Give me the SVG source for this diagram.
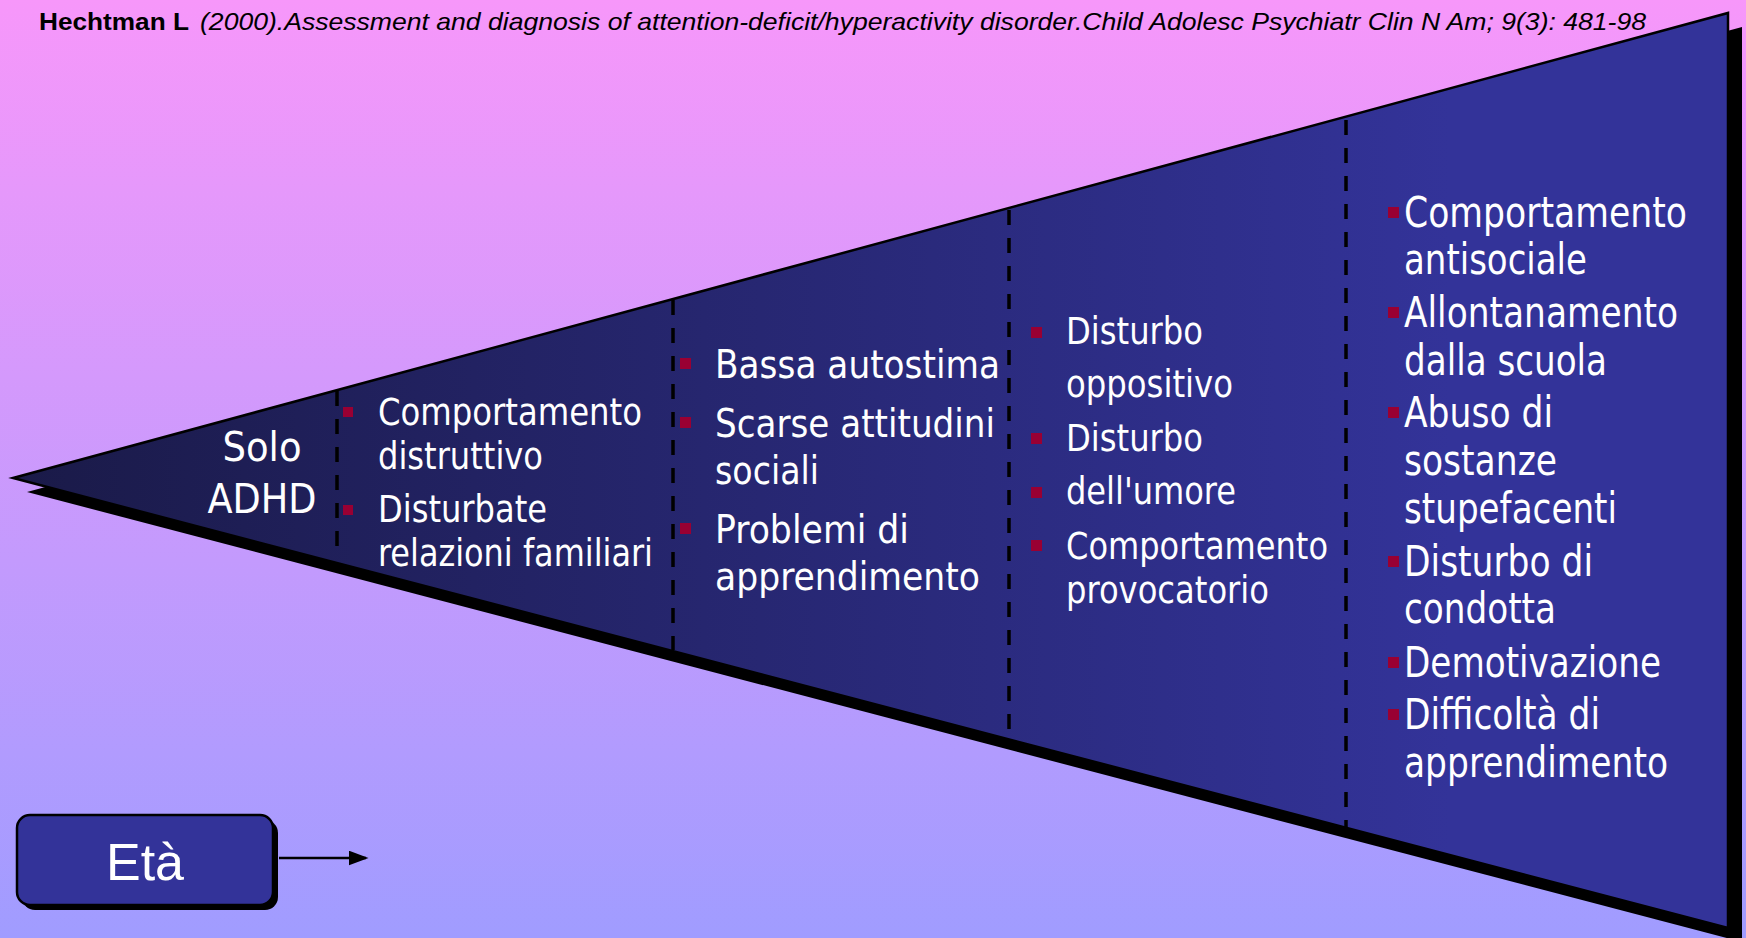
<svg xmlns="http://www.w3.org/2000/svg" width="1746" height="938" viewBox="0 0 1746 938">
<defs>
<linearGradient id="bgGrad" x1="0" y1="0" x2="0" y2="938" gradientUnits="userSpaceOnUse">
<stop offset="0" stop-color="#F797FA"/>
<stop offset="1" stop-color="#A09CFF"/>
</linearGradient>
<linearGradient id="triGrad" x1="13" y1="0" x2="1450" y2="0" gradientUnits="userSpaceOnUse">
<stop offset="0" stop-color="#1A1A48"/>
<stop offset="1" stop-color="#333399"/>
</linearGradient>
<marker id="arrowHead" markerWidth="8" markerHeight="6" refX="7" refY="3" orient="auto" markerUnits="strokeWidth">
<path d="M0,0 L8,3 L0,6 Z" fill="#000"/>
</marker>
<style>
.t{fill:#fff;font-family:"DejaVu Sans Condensed","DejaVu Sans",sans-serif;}
.c2{font-size:37px;}
.c3{font-size:39px;}
.c4{font-size:37px;}
.c5{font-size:42px;}
.b{fill:#990033;}
.dash{stroke:#000;stroke-width:3.5;stroke-dasharray:15 13;fill:none;}
.cite{font-family:"Liberation Sans",Arial,sans-serif;font-size:24px;fill:#000;}
</style>
</defs>
<rect x="0" y="0" width="1746" height="938" fill="url(#bgGrad)"/>
<text class="cite" x="39" y="30" font-weight="bold" textLength="150" lengthAdjust="spacingAndGlyphs">Hechtman L</text>
<text class="cite" x="200" y="30" font-style="italic" textLength="1446" lengthAdjust="spacingAndGlyphs">(2000).Assessment and diagnosis of attention-deficit/hyperactivity disorder.Child Adolesc Psychiatr Clin N Am; 9(3): 481-98</text>

<g id="triangle">
<polygon points="27,492 1742,27 1742,942" fill="#000"/>
<polygon points="13,478 1728,13 1728,928" fill="url(#triGrad)" stroke="#000" stroke-width="2.5" stroke-linejoin="miter"/>
<line class="dash" x1="337" y1="391" x2="337" y2="552"/>
<line class="dash" x1="673" y1="300" x2="673" y2="650"/>
<line class="dash" x1="1009" y1="210" x2="1009" y2="738"/>
<line class="dash" x1="1346" y1="120" x2="1346" y2="828"/>
</g>

<g id="solo-adhd">
<text class="t" x="262" y="461" font-size="40" text-anchor="middle" textLength="79" lengthAdjust="spacingAndGlyphs">Solo</text>
<text class="t" x="262" y="513" font-size="40" text-anchor="middle" textLength="109" lengthAdjust="spacingAndGlyphs">ADHD</text>
</g>

<g id="col2">
<rect class="b" x="343" y="407" width="10" height="10"/>
<rect class="b" x="343" y="505" width="10" height="10"/>
<text class="t c2" x="378" y="425" textLength="264" lengthAdjust="spacingAndGlyphs">Comportamento</text>
<text class="t c2" x="378" y="469" textLength="165" lengthAdjust="spacingAndGlyphs">distruttivo</text>
<text class="t c2" x="378" y="522" textLength="169" lengthAdjust="spacingAndGlyphs">Disturbate</text>
<text class="t c2" x="378" y="566" textLength="275" lengthAdjust="spacingAndGlyphs">relazioni familiari</text>
</g>

<g id="col3">
<rect class="b" x="680" y="358" width="11" height="11"/>
<rect class="b" x="680" y="417" width="11" height="11"/>
<rect class="b" x="680" y="523" width="11" height="11"/>
<text class="t c3" x="715" y="378" textLength="285" lengthAdjust="spacingAndGlyphs">Bassa autostima</text>
<text class="t c3" x="715" y="437" textLength="280" lengthAdjust="spacingAndGlyphs">Scarse attitudini</text>
<text class="t c3" x="715" y="484" textLength="104" lengthAdjust="spacingAndGlyphs">sociali</text>
<text class="t c3" x="715" y="543" textLength="194" lengthAdjust="spacingAndGlyphs">Problemi di</text>
<text class="t c3" x="715" y="590" textLength="265" lengthAdjust="spacingAndGlyphs">apprendimento</text>
</g>

<g id="col4">
<rect class="b" x="1031" y="327" width="11" height="11"/>
<rect class="b" x="1031" y="433" width="11" height="11"/>
<rect class="b" x="1031" y="487" width="11" height="11"/>
<rect class="b" x="1031" y="540" width="11" height="11"/>
<text class="t c4" x="1066" y="344" textLength="137" lengthAdjust="spacingAndGlyphs">Disturbo</text>
<text class="t c4" x="1066" y="397" textLength="167" lengthAdjust="spacingAndGlyphs">oppositivo</text>
<text class="t c4" x="1066" y="451" textLength="137" lengthAdjust="spacingAndGlyphs">Disturbo</text>
<text class="t c4" x="1066" y="504" textLength="170" lengthAdjust="spacingAndGlyphs">dell'umore</text>
<text class="t c4" x="1066" y="559" textLength="262" lengthAdjust="spacingAndGlyphs">Comportamento</text>
<text class="t c4" x="1066" y="603" textLength="203" lengthAdjust="spacingAndGlyphs">provocatorio</text>
</g>

<g id="col5">
<rect class="b" x="1388" y="207" width="11" height="11"/>
<rect class="b" x="1388" y="307" width="11" height="11"/>
<rect class="b" x="1388" y="407" width="11" height="11"/>
<rect class="b" x="1388" y="556" width="11" height="11"/>
<rect class="b" x="1388" y="657" width="11" height="11"/>
<rect class="b" x="1388" y="709" width="11" height="11"/>
<text class="t c5" x="1404" y="227" textLength="283" lengthAdjust="spacingAndGlyphs">Comportamento</text>
<text class="t c5" x="1404" y="274" textLength="183" lengthAdjust="spacingAndGlyphs">antisociale</text>
<text class="t c5" x="1404" y="327" textLength="274" lengthAdjust="spacingAndGlyphs">Allontanamento</text>
<text class="t c5" x="1404" y="375" textLength="203" lengthAdjust="spacingAndGlyphs">dalla scuola</text>
<text class="t c5" x="1404" y="427" textLength="149" lengthAdjust="spacingAndGlyphs">Abuso di</text>
<text class="t c5" x="1404" y="475" textLength="153" lengthAdjust="spacingAndGlyphs">sostanze</text>
<text class="t c5" x="1404" y="523" textLength="213" lengthAdjust="spacingAndGlyphs">stupefacenti</text>
<text class="t c5" x="1404" y="576" textLength="189" lengthAdjust="spacingAndGlyphs">Disturbo di</text>
<text class="t c5" x="1404" y="623" textLength="152" lengthAdjust="spacingAndGlyphs">condotta</text>
<text class="t c5" x="1404" y="677" textLength="257" lengthAdjust="spacingAndGlyphs">Demotivazione</text>
<text class="t c5" x="1404" y="729" textLength="196" lengthAdjust="spacingAndGlyphs">Difficoltà di</text>
<text class="t c5" x="1404" y="777" textLength="264" lengthAdjust="spacingAndGlyphs">apprendimento</text>
</g>

<g id="eta">
<rect x="22" y="820" width="256" height="90" rx="13" fill="#000"/>
<rect x="17" y="815" width="256" height="90" rx="13" fill="#333399" stroke="#000" stroke-width="2.5"/>
<text x="145" y="880" font-family="'Liberation Sans',Arial,sans-serif" font-size="52" fill="#fff" text-anchor="middle">Età</text>
</g>

<g id="connectors">
<line x1="279" y1="858" x2="366" y2="858" stroke="#000" stroke-width="2.5" marker-end="url(#arrowHead)"/>
</g>
</svg>
